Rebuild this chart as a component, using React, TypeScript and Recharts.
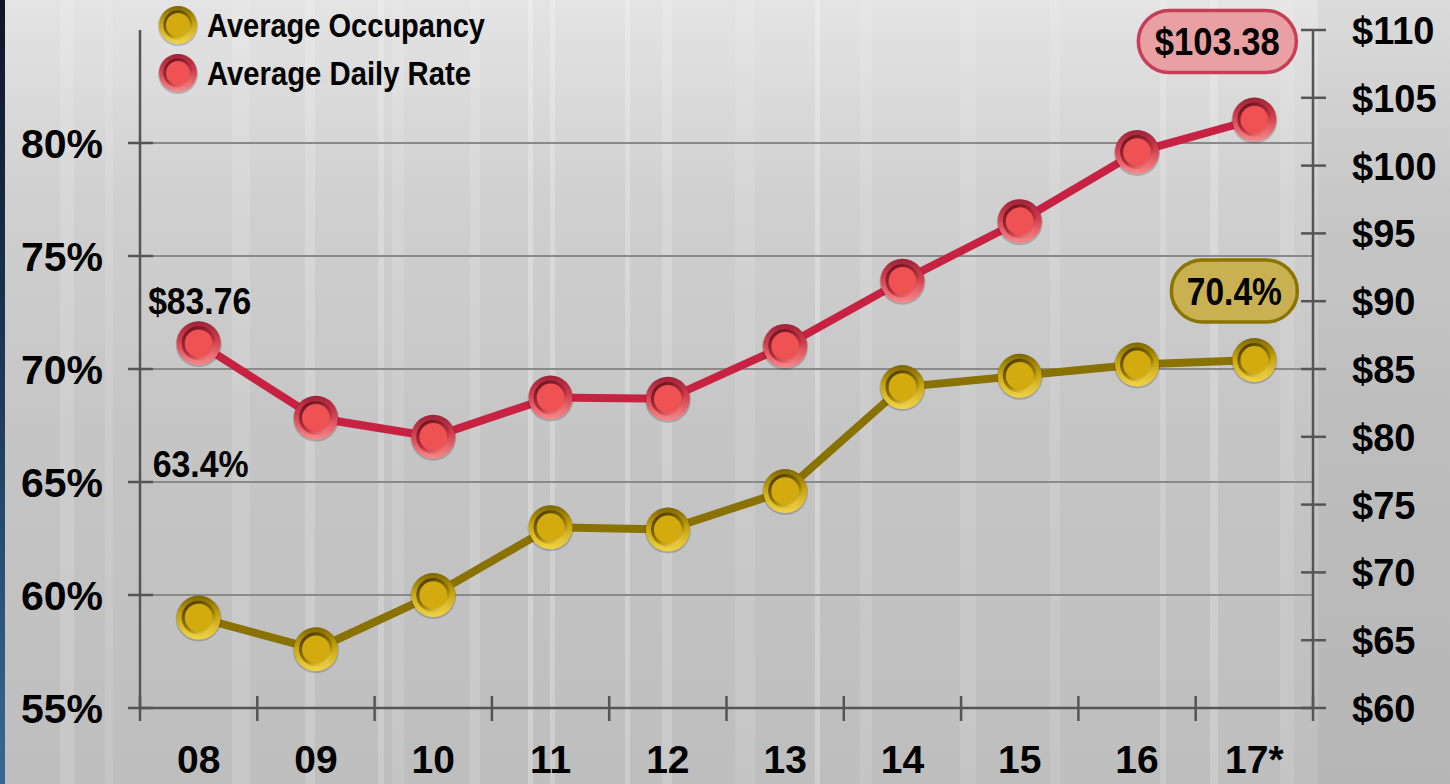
import React from 'react';
import { LineChart, Line, XAxis, YAxis, ReferenceLine, LabelList } from 'recharts';

const categories = ['08', '09', '10', '11', '12', '13', '14', '15', '16', '17*'];
const occupancy = [59.0, 57.6, 60.0, 63.0, 62.9, 64.6, 69.2, 69.7, 70.2, 70.4];
const dailyRate = [86.9, 81.4, 80.0, 82.9, 82.8, 86.7, 91.5, 95.9, 101.0, 103.4];
const occTicks = [55, 60, 65, 70, 75, 80];
const rateTicks = [60, 65, 70, 75, 80, 85, 90, 95, 100, 105, 110];
const seriesNames = ['Average Occupancy', 'Average Daily Rate'];
const occFirstLabel = '63.4%';
const occLastLabel = '70.4%';
const rateFirstLabel = '$83.76';
const rateLastLabel = '$103.38';

const data = categories.map((c, i) => ({ cat: c, occ: occupancy[i], rate: dailyRate[i] }));

const W = 1450;
const H = 784;
const LEFT_W = 140;
const RIGHT_W = 137;
const TOP = 30;
const XAXIS_H = 76;
const BAND = (W - LEFT_W - RIGHT_W) / categories.length;
const FONT = "'Liberation Sans', Arial, Helvetica, sans-serif";
const AXIS = '#555555';

const Defs = () => (
  <svg width={0} height={0} style={{ position: 'absolute' }}>
    <defs>
      <linearGradient id="redOuter" x1="0" y1="0" x2="0" y2="1">
        <stop offset="0%" stopColor="#a02236" />
        <stop offset="45%" stopColor="#d44050" />
        <stop offset="100%" stopColor="#f88a8a" />
      </linearGradient>
      <linearGradient id="redInner" x1="0.2" y1="0" x2="0.8" y2="1">
        <stop offset="0%" stopColor="#6e1422" />
        <stop offset="60%" stopColor="#b83040" />
        <stop offset="100%" stopColor="#f27a7a" />
      </linearGradient>
      <linearGradient id="goldOuter" x1="0" y1="0" x2="0" y2="1">
        <stop offset="0%" stopColor="#7e6600" />
        <stop offset="45%" stopColor="#c8a40c" />
        <stop offset="100%" stopColor="#f2d448" />
      </linearGradient>
      <linearGradient id="goldInner" x1="0.2" y1="0" x2="0.8" y2="1">
        <stop offset="0%" stopColor="#4e3e00" />
        <stop offset="60%" stopColor="#9a7e00" />
        <stop offset="100%" stopColor="#f0d24a" />
      </linearGradient>
      <linearGradient id="bgGrad" x1="0" y1="0" x2="0" y2="1">
        <stop offset="0%" stopColor="#e4e4e4" />
        <stop offset="25%" stopColor="#d0d0d0" />
        <stop offset="55%" stopColor="#c5c5c5" />
        <stop offset="100%" stopColor="#bebebe" />
      </linearGradient>
      <linearGradient id="edgeGrad" x1="0" y1="0" x2="0" y2="1">
        <stop offset="0%" stopColor="#0e1626" />
        <stop offset="50%" stopColor="#1e3a5a" />
        <stop offset="100%" stopColor="#3a6894" />
      </linearGradient>
    </defs>
  </svg>
);

const Marker = ({ cx, cy, kind, r = 22 }: { cx: number; cy: number; kind: 'red' | 'gold'; r?: number }) => {
  const inner = kind === 'red' ? '#ee5252' : '#d4ab0e';
  return (
    <g>
      <circle cx={cx} cy={cy + 1} r={r + 1} fill="rgba(0,0,0,0.18)" />
      <circle cx={cx} cy={cy} r={r} fill={`url(#${kind}Outer)`} />
      <circle cx={cx} cy={cy} r={r * 0.7} fill={inner} stroke={`url(#${kind}Inner)`} strokeWidth={r * 0.14} />
    </g>
  );
};

const RedDot = (p: any) => (p.cx == null ? null : <Marker key={`r${p.index}`} cx={p.cx} cy={p.cy} kind="red" />);
const GoldDot = (p: any) => (p.cx == null ? null : <Marker key={`g${p.index}`} cx={p.cx} cy={p.cy} kind="gold" />);

const LeftTick = (p: any) => {
  const { x, y, payload } = p;
  const ax = x + 37;
  return (
    <g>
      <line x1={ax - 12} x2={ax + 13} y1={y} y2={y} stroke={AXIS} strokeWidth={2.5} />
      <text x={x} y={y + 15} textAnchor="end" fontSize={41} fontWeight="bold" fontFamily={FONT} fill="#000">
        {`${payload.value}%`}
      </text>
    </g>
  );
};

const RightTick = (p: any) => {
  const { x, y, payload } = p;
  const ax = x - 39;
  return (
    <g>
      <line x1={ax - 12} x2={ax + 13} y1={y} y2={y} stroke={AXIS} strokeWidth={2.5} />
      <text x={x} y={y + 14} textAnchor="start" fontSize={38} fontWeight="bold" fontFamily={FONT} fill="#000">
        {`$${payload.value}`}
      </text>
    </g>
  );
};

const BottomTick = (p: any) => {
  const { x, y, payload, index } = p;
  const ay = y - 14;
  const last = index === categories.length - 1;
  return (
    <g>
      <line x1={x - BAND / 2} x2={x - BAND / 2} y1={ay - 12} y2={ay + 13} stroke={AXIS} strokeWidth={2.5} />
      {last && <line x1={x + BAND / 2} x2={x + BAND / 2} y1={ay - 12} y2={ay + 13} stroke={AXIS} strokeWidth={2.5} />}
      <text x={x} y={ay + 65} textAnchor="middle" fontSize={39} fontWeight="bold" fontFamily={FONT} fill="#000">
        {payload.value}
      </text>
    </g>
  );
};

const Pill = ({ cx, cy, w, h, fill, stroke, text, tl }: any) => (
  <g>
    <rect x={cx - w / 2} y={cy - h / 2} width={w} height={h} rx={h / 2} fill={fill} stroke={stroke} strokeWidth={3.5} />
    <text
      x={cx}
      y={cy + 14}
      textAnchor="middle"
      fontSize={39}
      fontWeight="bold"
      fontFamily={FONT}
      fill="#000"
      textLength={tl}
      lengthAdjust="spacingAndGlyphs"
    >
      {text}
    </text>
  </g>
);

const OccLabel = (p: any) => {
  const { x, y, index } = p;
  if (index === 0) {
    return (
      <text x={x + 2} y={y - 141} textAnchor="middle" fontSize={37} fontWeight="bold" fontFamily={FONT} fill="#000" textLength={96} lengthAdjust="spacingAndGlyphs">
        {occFirstLabel}
      </text>
    );
  }
  if (index === categories.length - 1) {
    return <Pill cx={x - 20} cy={y - 69} w={126} h={62} fill="#c9b152" stroke="#8c7400" text={occLastLabel} tl={95} />;
  }
  return null;
};

const RateLabel = (p: any) => {
  const { x, y, index } = p;
  if (index === 0) {
    return (
      <text x={x + 1} y={y - 29} textAnchor="middle" fontSize={36} fontWeight="bold" fontFamily={FONT} fill="#000" textLength={103} lengthAdjust="spacingAndGlyphs">
        {rateFirstLabel}
      </text>
    );
  }
  if (index === categories.length - 1) {
    return <Pill cx={x - 37} cy={y - 78} w={158} h={62} fill="#e8a0a3" stroke="#c63e58" text={rateLastLabel} tl={125} />;
  }
  return null;
};

const streaks: [number, number, number][] = [
  [60, 14, 0.25], [105, 8, 0.2], [232, 18, 0.22], [305, 10, 0.3], [378, 6, 0.35], [392, 12, 0.2],
  [470, 10, 0.25], [528, 5, 0.45], [550, 5, 0.4], [625, 5, 0.4], [662, 10, 0.3], [735, 20, 0.18],
  [815, 5, 0.45], [860, 12, 0.2], [960, 16, 0.18], [1050, 10, 0.2], [1160, 6, 0.3], [1210, 8, 0.35],
  [1280, 14, 0.2],
];

const Background = () => (
  <svg width={W} height={H} style={{ position: 'absolute', left: 0, top: 0 }}>
    <rect x={0} y={0} width={W} height={H} fill="url(#bgGrad)" />
    {streaks.map(([x, w, o], i) => (
      <rect key={i} x={x} y={0} width={w} height={H} fill="#ffffff" opacity={o * 0.6} />
    ))}
    <rect x={1318} y={0} width={132} height={H} fill="#000" opacity={0.04} />
    <rect x={0} y={0} width={5} height={H} fill="url(#edgeGrad)" />
  </svg>
);

const LegendOverlay = () => (
  <svg width={640} height={120} style={{ position: 'absolute', left: 0, top: 0 }}>
    {seriesNames.map((name, i) => (
      <g key={name}>
        <Marker cx={178} cy={25 + i * 48} kind={i === 0 ? 'gold' : 'red'} r={19} />
        <text x={207} y={37 + i * 48} fontSize={33} fontWeight="bold" fontFamily={FONT} fill="#000" textLength={i === 0 ? 278 : 264} lengthAdjust="spacingAndGlyphs">
          {name}
        </text>
      </g>
    ))}
  </svg>
);

export default function App() {
  return (
    <div style={{ position: 'absolute', left: 0, top: 0, width: W, height: H, overflow: 'hidden' }}>
      <Defs />
      <Background />
      <div style={{ position: 'absolute', left: 0, top: 0 }}>
        <LineChart width={W} height={H} data={data} margin={{ top: TOP, right: 0, bottom: 0, left: 0 }}>
          <XAxis
            dataKey="cat"
            scale="band"
            height={XAXIS_H}
            interval={0}
            tickSize={12}
            tickMargin={2}
            tickLine={false}
            axisLine={{ stroke: AXIS, strokeWidth: 2.5 }}
            tick={BottomTick}
          />
          <YAxis
            yAxisId="left"
            orientation="left"
            width={LEFT_W}
            domain={[55, 85]}
            ticks={occTicks}
            interval={0}
            allowDataOverflow
            tickSize={12}
            tickMargin={25}
            tickLine={false}
            axisLine={{ stroke: AXIS, strokeWidth: 2.5 }}
            tick={LeftTick}
          />
          <YAxis
            yAxisId="right"
            orientation="right"
            width={RIGHT_W}
            domain={[60, 110]}
            ticks={rateTicks}
            interval={0}
            allowDataOverflow
            tickSize={12}
            tickMargin={27}
            tickLine={false}
            axisLine={{ stroke: AXIS, strokeWidth: 2.5 }}
            tick={RightTick}
          />
          {occTicks.slice(1).map((v) => (
            <ReferenceLine key={v} yAxisId="left" y={v} stroke="#8a8a8a" strokeWidth={2} ifOverflow="visible" />
          ))}
          <Line
            yAxisId="left"
            dataKey="occ"
            name={seriesNames[0]}
            stroke="#8a7200"
            strokeWidth={8}
            dot={GoldDot}
            activeDot={false}
            isAnimationActive={false}
          >
            <LabelList dataKey="occ" content={OccLabel} />
          </Line>
          <Line
            yAxisId="right"
            dataKey="rate"
            name={seriesNames[1]}
            stroke="#c82242"
            strokeWidth={8}
            dot={RedDot}
            activeDot={false}
            isAnimationActive={false}
          >
            <LabelList dataKey="rate" content={RateLabel} />
          </Line>
        </LineChart>
      </div>
      <LegendOverlay />
    </div>
  );
}
